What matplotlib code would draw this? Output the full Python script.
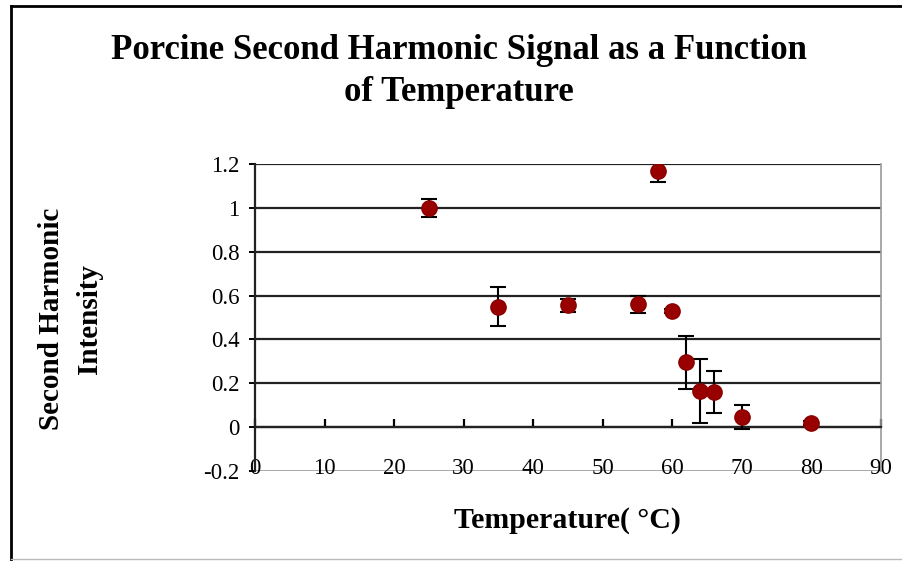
import numpy as np
import matplotlib.pyplot as plt
from matplotlib.lines import Line2D

# Data
temperature = [25, 35, 45, 55, 58, 60, 62, 64, 66, 70, 80]
intensity = [1.00, 0.55, 0.555, 0.56, 1.17, 0.53, 0.295, 0.165, 0.16, 0.045, 0.02]
error = [0.04, 0.09, 0.03, 0.04, 0.05, 0.01, 0.12, 0.145, 0.095, 0.055, 0.01]

x_ticks = [0, 10, 20, 30, 40, 50, 60, 70, 80, 90]
y_ticks = [-0.2, 0, 0.2, 0.4, 0.6, 0.8, 1.0, 1.2]
y_labels = ['-0.2', '0', '0.2', '0.4', '0.6', '0.8', '1', '1.2']

plt.rcParams['font.family'] = ['Liberation Serif', 'DejaVu Serif']

fig = plt.figure(figsize=(9.03, 5.61), dpi=100)
ax = fig.add_axes([0.2824, 0.1604, 0.6932, 0.5473])

# Gridlines (Excel style)
for yv in y_ticks:
    if yv == -0.2:
        ax.axhline(yv, color='#9a9a9a', lw=1.2, zorder=1)
    else:
        ax.axhline(yv, color='#222222', lw=1.6, zorder=1)

ax.errorbar(temperature, intensity, yerr=error, fmt='o', color='#990000',
            ms=11, mec='#8a0000', ecolor='black', elinewidth=1.5,
            capsize=6, capthick=1.5, zorder=3)

ax.set_xlim(0, 90)
ax.set_ylim(-0.2, 1.2)

# x axis crosses at y=0, labels sit low
ax.spines['bottom'].set_position(('data', 0))
ax.spines['bottom'].set_linewidth(1.6)
ax.spines['bottom'].set_color('#222222')
ax.spines['top'].set_visible(False)
ax.spines['right'].set_color('#9a9a9a')
ax.spines['right'].set_linewidth(1.2)
ax.spines['left'].set_color('#222222')
ax.spines['left'].set_linewidth(1.6)

ax.set_xticks(x_ticks)
ax.set_xticklabels([str(v) for v in x_ticks])
ax.tick_params(axis='x', direction='in', length=6, width=1.6, pad=22,
               labelsize=16.5)
ax.set_yticks(y_ticks)
ax.set_yticklabels(y_labels)
ax.tick_params(axis='y', direction='out', length=4, width=1.4, pad=7,
               labelsize=16.5)

fig.text(0.508, 0.910, 'Porcine Second Harmonic Signal as a Function',
         ha='center', va='center', fontsize=25, fontweight='bold')
fig.text(0.508, 0.836, 'of Temperature',
         ha='center', va='center', fontsize=25, fontweight='bold')

fig.text(0.057, 0.431, 'Second Harmonic', rotation=90, ha='center',
         va='center', fontsize=21, fontweight='bold')
fig.text(0.099, 0.431, 'Intensity', rotation=90, ha='center',
         va='center', fontsize=21, fontweight='bold')

fig.text(0.628, 0.073, 'Temperature( \u00b0C)', ha='center', va='center',
         fontsize=21.5, fontweight='bold')

# chart frame
fig.add_artist(Line2D([0.0125, 0.0125], [0.0, 0.989], color='black', lw=2,
                      transform=fig.transFigure))
fig.add_artist(Line2D([0.0125, 1.0], [0.989, 0.989], color='black', lw=2,
                      transform=fig.transFigure))
fig.add_artist(Line2D([0.0125, 1.0], [0.003, 0.003], color='#bbbbbb', lw=1,
                      transform=fig.transFigure))

fig.savefig('out.png', dpi=100, facecolor='white')
